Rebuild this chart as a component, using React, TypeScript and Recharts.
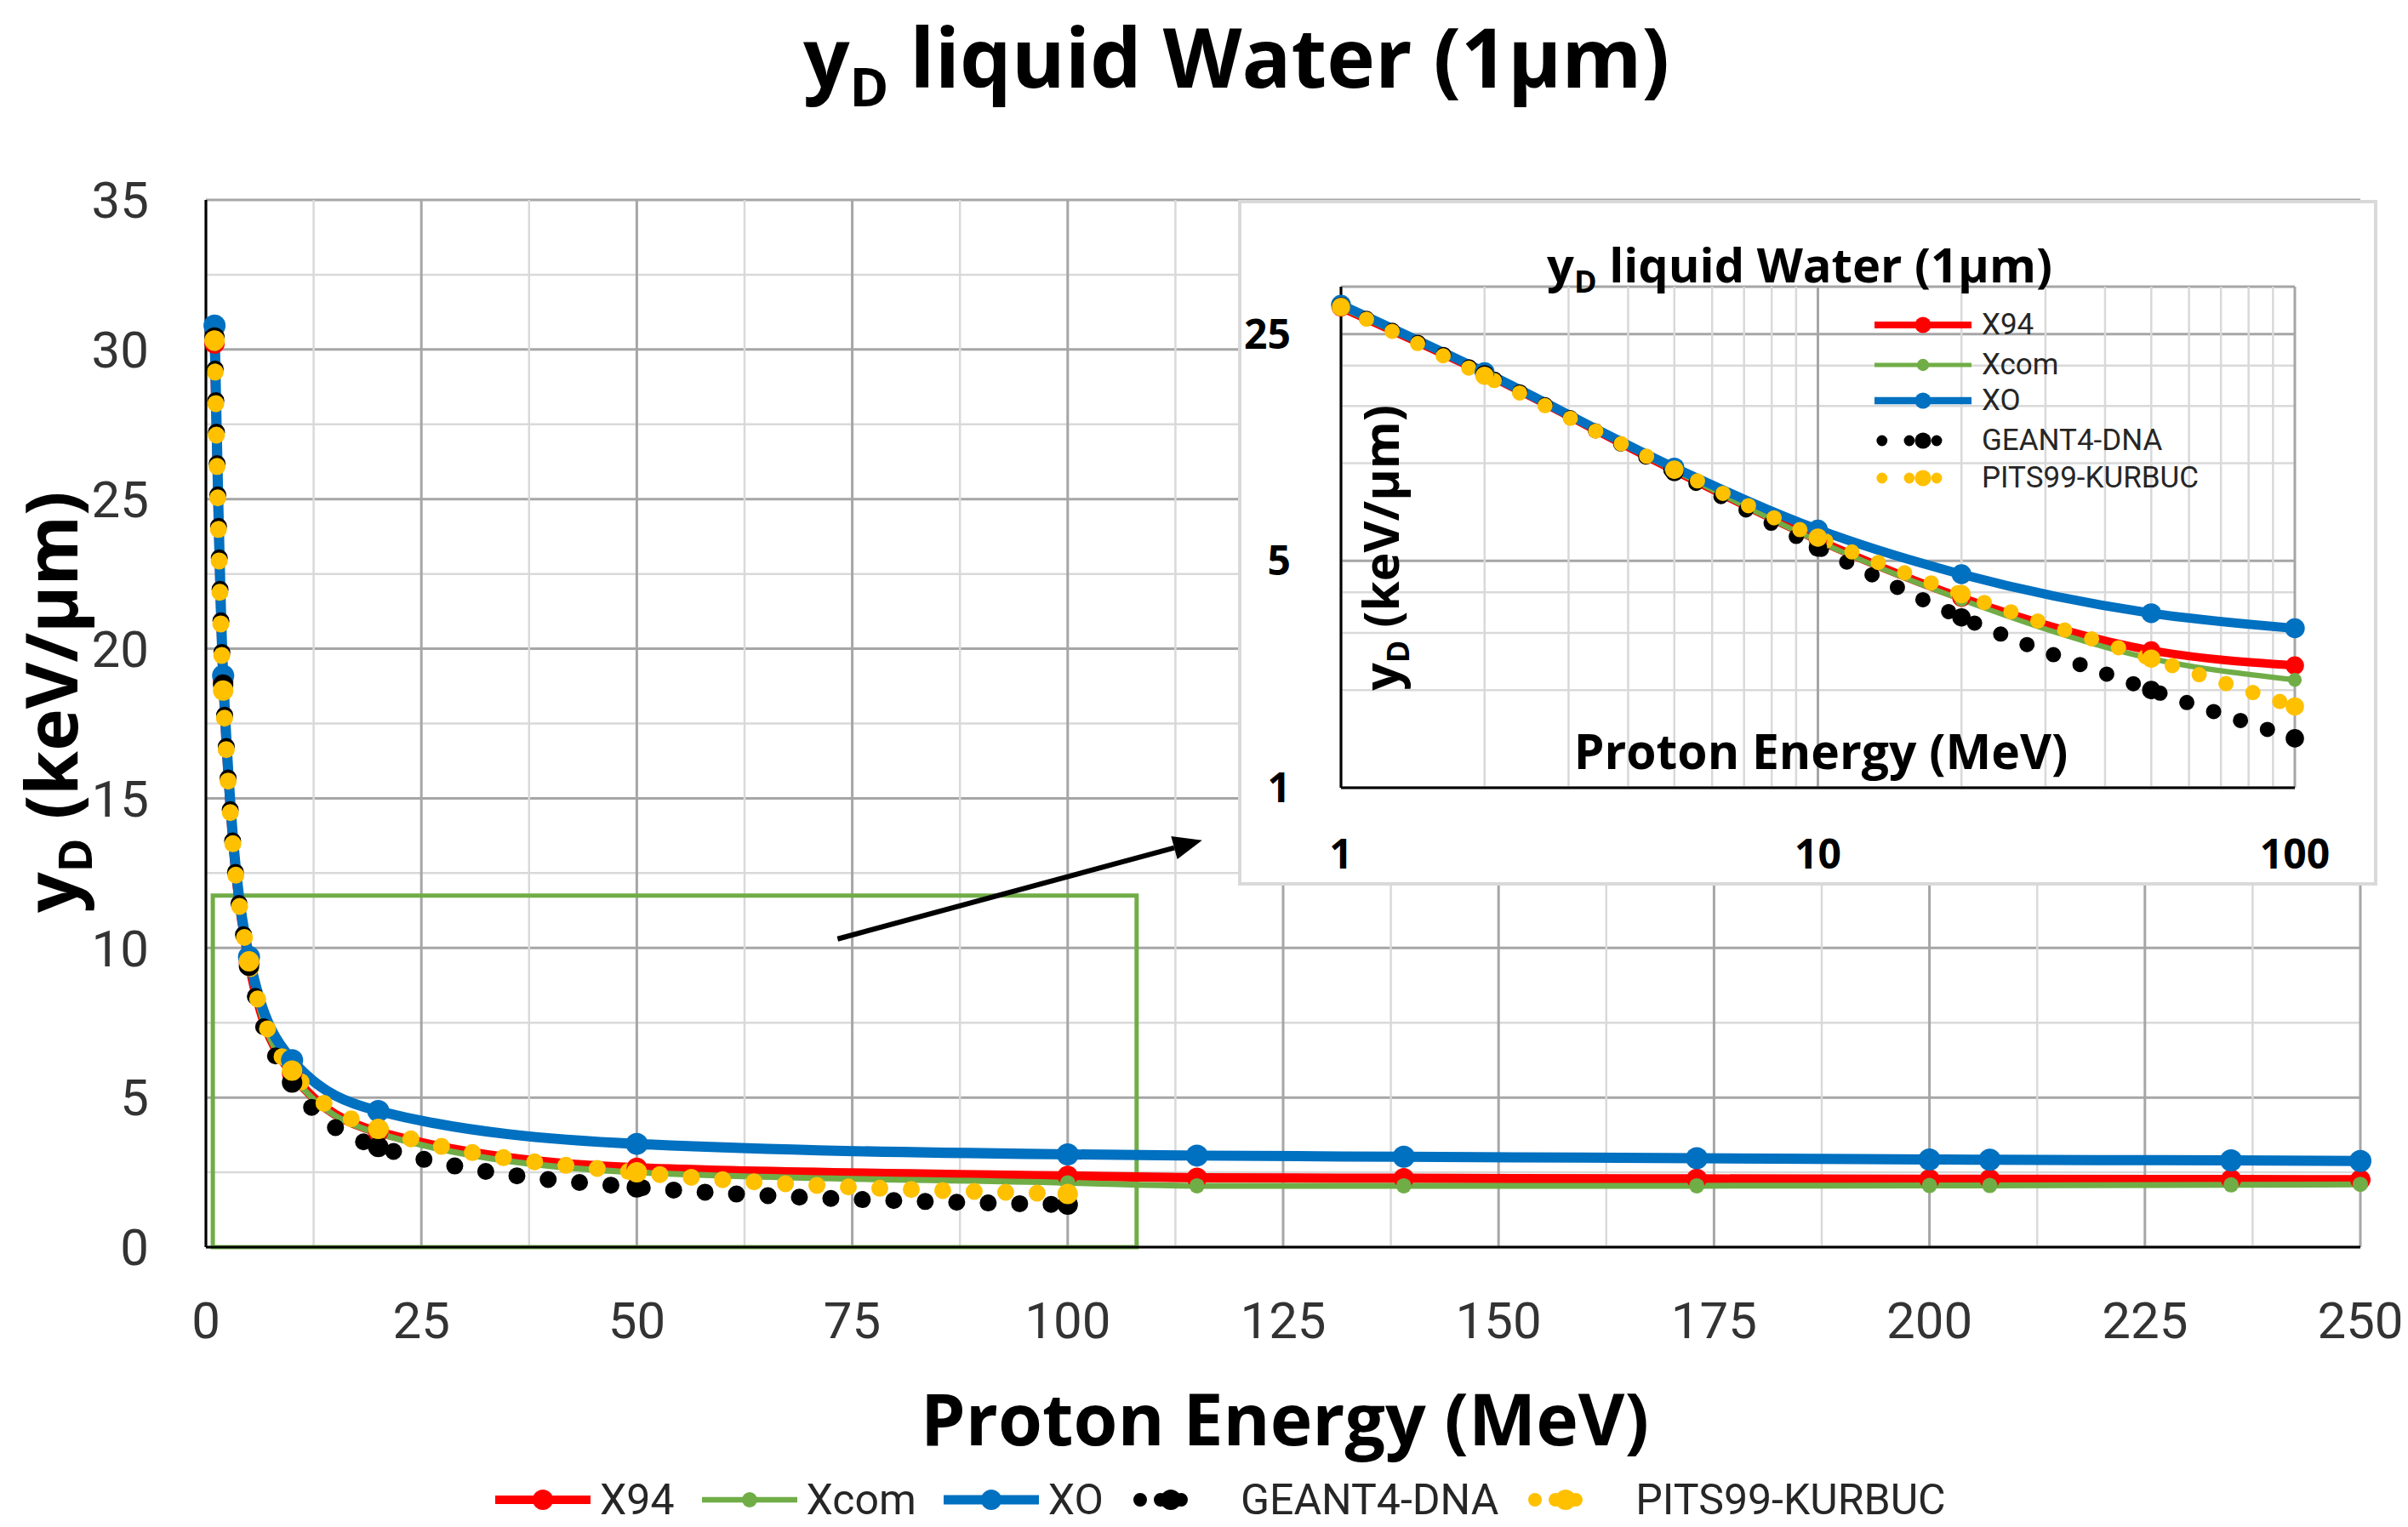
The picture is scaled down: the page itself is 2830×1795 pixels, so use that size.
import React from "react";
import {
  CartesianGrid,
  Line,
  LineChart,
  ReferenceArea,
  ReferenceLine,
  XAxis,
  YAxis,
} from "recharts";

// proton energy (MeV) and yD (keV/µm)
const energies = [1, 2, 5, 10, 20, 50, 100, 115, 139, 173, 200, 207, 235, 250];
const x94 = [30.2, 18.9, 9.5, 5.8, 3.85, 2.65, 2.38, 2.32, 2.3, 2.28, 2.27, 2.27, 2.26, 2.25];
const xcom = [30.2, 18.9, 9.5, 5.75, 3.8, 2.5, 2.15, 2.05, 2.05, 2.05, 2.06, 2.06, 2.08, 2.1];
const xo = [30.8, 19.1, 9.7, 6.25, 4.55, 3.45, 3.1, 3.06, 3.02, 2.97, 2.93, 2.92, 2.9, 2.88];
const geant4 = [30.4, 18.8, 9.4, 5.5, 3.35, 2.0, 1.42, null, null, null, null, null, null, null];
const pits99 = [30.3, 18.6, 9.55, 5.9, 3.95, 2.5, 1.78, null, null, null, null, null, null, null];

// main chart ticks (minor ones only feed the grid)
const xTicks = [0, 12.5, 25, 37.5, 50, 62.5, 75, 87.5, 100, 112.5, 125, 137.5, 150, 162.5, 175, 187.5, 200, 212.5, 225, 237.5, 250];
const yTicks = [0, 2.5, 5, 7.5, 10, 12.5, 15, 17.5, 20, 22.5, 25, 27.5, 30, 32.5, 35];

// inset (log-log) ticks
const insetXTicks = [1, 2, 3, 4, 5, 6, 7, 8, 9, 10, 20, 30, 40, 50, 60, 70, 80, 90, 100];
const insetXLabels = [1, 10, 100];
const insetYTicks = [1, 2, 3, 4, 5, 10, 15, 20, 25, 35];
const insetYLabels = [1, 5, 25];

// zoom box and arrow annotation, in data units
const zoomBox = { x1: 0.8, x2: 108, y1: 0, y2: 11.75 };
const arrowFrom = { x: 73.3, y: 10.3 };
const arrowTo = { x: 115.6, y: 13.6 };

const series = [
  { key: "x94", name: "X94", color: "#FF0000", width: 11, r: 12, dotted: false },
  { key: "xcom", name: "Xcom", color: "#70AD47", width: 7, r: 9, dotted: false },
  { key: "xo", name: "XO", color: "#0070C0", width: 12, r: 13, dotted: false },
  { key: "geant4", name: "GEANT4-DNA", color: "#000000", width: 20, r: 12, dotted: true },
  { key: "pits99", name: "PITS99-KURBUC", color: "#FFC000", width: 20, r: 12, dotted: true },
];

const data = energies.map((e, i) => ({
  e,
  x94: x94[i],
  xcom: xcom[i],
  xo: xo[i],
  geant4: geant4[i],
  pits99: pits99[i],
}));
const insetData = data.filter((d) => d.e <= 100);

const SANS = "'Open Sans', sans-serif";
const TICK_FONT = "'Liberation Sans Narrow', Roboto, sans-serif";

const gridLine = (ticks: number[], isMajor: (v: number) => boolean) => (p: any) => {
  const v = ticks[p.index];
  if (v === undefined) return <g key={p.key} />;
  const major = isMajor(v);
  return (
    <line
      key={p.key}
      x1={p.x1}
      y1={p.y1}
      x2={p.x2}
      y2={p.y2}
      stroke={major ? "#A6A6A6" : "#D9D9D9"}
      strokeWidth={major ? 3 : 2.5}
    />
  );
};

const ArrowShape = (p: any) => {
  const { x1, y1, x2, y2 } = p;
  const dx = x2 - x1;
  const dy = y2 - y1;
  const len = Math.hypot(dx, dy) || 1;
  const ux = dx / len;
  const uy = dy / len;
  const hl = 34;
  const hw = 14;
  const bx = x2 - ux * hl;
  const by = y2 - uy * hl;
  const pts = `${x2},${y2} ${bx - uy * hw},${by + ux * hw} ${bx + uy * hw},${by - ux * hw}`;
  return (
    <g>
      <line x1={x1} y1={y1} x2={bx} y2={by} stroke="#000" strokeWidth={6} />
      <polygon points={pts} fill="#000" />
    </g>
  );
};

const renderLines = (scale: number) =>
  series.map((s) => (
    <Line
      key={s.key}
      type="monotone"
      dataKey={s.key}
      name={s.name}
      stroke={s.color}
      strokeWidth={s.width * scale}
      strokeDasharray={s.dotted ? `0 ${37 * scale}` : undefined}
      strokeLinecap="round"
      dot={{ r: s.r * scale, fill: s.color, stroke: s.color, strokeWidth: 0, strokeDasharray: "none" }}
      activeDot={false}
      isAnimationActive={false}
    />
  ));

// bold label placed by its baseline; the box holds the whole font height
// (ascent 1.069em + descent 0.293em); rotated labels read bottom-to-top
const Txt = ({
  x,
  y,
  size,
  w,
  rotate = false,
  children,
}: {
  x: number;
  y: number;
  size: number;
  w: number;
  rotate?: boolean;
  children: React.ReactNode;
}) => {
  const h = size * 1.362;
  const base: React.CSSProperties = {
    position: "absolute",
    width: w,
    height: h,
    lineHeight: `${h}px`,
    fontFamily: SANS,
    fontWeight: 700,
    fontSize: size,
    color: "#000",
    textAlign: "center",
    whiteSpace: "nowrap",
  };
  if (rotate) {
    const cx = x - (1.069 - h / size / 2) * size;
    return (
      <div style={{ ...base, left: cx - w / 2, top: y - h / 2, transform: "rotate(-90deg)" }}>{children}</div>
    );
  }
  return <div style={{ ...base, left: x - w / 2, top: y - 1.069 * size }}>{children}</div>;
};

const Sub = ({ size, dy, children }: { size: number; dy: number; children: React.ReactNode }) => (
  <span style={{ fontSize: size, position: "relative", top: dy, lineHeight: 0 }}>{children}</span>
);

const LegendSymbol = ({ s, w, k }: { s: (typeof series)[number]; w: number; k: number }) => {
  const h = 40 * k;
  const cy = h / 2;
  return (
    <svg width={w} height={h} style={{ display: "block", flex: "none" }}>
      {s.dotted ? (
        <line
          x1={11 * k}
          x2={w - 11 * k}
          y1={cy}
          y2={cy}
          stroke={s.color}
          strokeWidth={16 * k}
          strokeDasharray={`0 ${(w - 22 * k) / 3}`}
          strokeLinecap="round"
        />
      ) : (
        <line x1={0} x2={w} y1={cy} y2={cy} stroke={s.color} strokeWidth={s.width * k * 0.9} />
      )}
      <circle cx={w / 2} cy={cy} r={Math.min(s.r, 12) * k} fill={s.color} />
    </svg>
  );
};

const MainLegend = () => (
  <div
    style={{
      position: "absolute",
      left: 582,
      top: 1733,
      height: 60,
      display: "flex",
      alignItems: "center",
      gap: 32,
      fontFamily: "Roboto, sans-serif",
      fontSize: 50,
      color: "#262626",
    }}
  >
    {series.map((s) => (
      <div key={s.key} style={{ display: "flex", alignItems: "center", gap: s.dotted ? 35 : 11 }}>
        <LegendSymbol s={s} w={s.dotted ? 94 : 112} k={1} />
        <span style={{ lineHeight: "58px" }}>{s.name}</span>
      </div>
    ))}
  </div>
);

const insetLegendY = [147, 194, 236, 283, 327];

const InsetLegend = () => (
  <>
    {series.map((s, i) => (
      <div
        key={s.key}
        style={{
          position: "absolute",
          left: 748,
          top: insetLegendY[i] - 21,
          height: 42,
          display: "flex",
          alignItems: "center",
          gap: 12,
          fontFamily: "Roboto, sans-serif",
          fontSize: 35,
          color: "#262626",
        }}
      >
        <LegendSymbol s={s} w={114} k={0.8} />
        <span style={{ lineHeight: "42px" }}>{s.name}</span>
      </div>
    ))}
  </>
);

const Inset = () => (
  <div
    style={{
      position: "absolute",
      left: 1455,
      top: 235,
      width: 1339,
      height: 806,
      background: "#FFFFFF",
    }}
  >
    <LineChart width={1339} height={806} data={insetData} margin={{ top: 102, right: 97, bottom: 15, left: 0 }}>
      <CartesianGrid
        horizontal={gridLine(insetYTicks, (v) => insetYLabels.includes(v) || v === 35)}
        vertical={gridLine(insetXTicks, (v) => insetXLabels.includes(v))}
      />
      <XAxis
        dataKey="e"
        type="number"
        scale="log"
        domain={[1, 100]}
        ticks={insetXTicks}
        interval={0}
        height={100}
        tickSize={0}
        tickMargin={61}
        tickFormatter={(v) => (insetXLabels.includes(v) ? String(v) : "")}
        axisLine={{ stroke: "#000", strokeWidth: 3 }}
        tickLine={false}
        tick={{ fontFamily: SANS, fontWeight: 700, fontSize: 48, fill: "#000" }}
      />
      <YAxis
        type="number"
        scale="log"
        domain={[1, 35]}
        ticks={insetYTicks}
        interval={0}
        width={121}
        tickSize={0}
        tickMargin={59}
        tickFormatter={(v) => (insetYLabels.includes(v) ? String(v) : "")}
        axisLine={{ stroke: "#000", strokeWidth: 3 }}
        tickLine={false}
        tick={{ fontFamily: SANS, fontWeight: 700, fontSize: 48, fill: "#000" }}
      />
      {renderLines(0.9)}
    </LineChart>
    <Txt x={660} y={97} size={56} w={720}>
      y<Sub size={36} dy={12}>D</Sub> liquid Water (1µm)
    </Txt>
    <Txt x={685} y={670} size={57} w={700}>
      Proton Energy (MeV)
    </Txt>
    <Txt x={190} y={409} size={57} w={400} rotate>
      y<Sub size={36} dy={12}>D</Sub> (keV/µm)
    </Txt>
    <InsetLegend />
    <div
      style={{
        position: "absolute",
        inset: 0,
        border: "4px solid #D9D9D9",
        pointerEvents: "none",
      }}
    />
  </div>
);

export default function App() {
  return (
    <div
      style={{
        position: "absolute",
        left: 0,
        top: 0,
        width: 2830,
        height: 1795,
        background: "#FFFFFF",
        overflow: "hidden",
      }}
    >
      <LineChart width={2830} height={1795} data={data} margin={{ top: 235, right: 56, bottom: 229, left: 0 }}>
        <CartesianGrid
          horizontal={gridLine(yTicks, (v) => v % 5 === 0)}
          vertical={gridLine(xTicks, (v) => v % 25 === 0)}
        />
        <XAxis
          dataKey="e"
          type="number"
          domain={[0, 250]}
          ticks={xTicks}
          interval={0}
          height={100}
          tickSize={0}
          tickMargin={64}
          tickFormatter={(v) => (v % 25 === 0 ? String(v) : "")}
          axisLine={{ stroke: "#000", strokeWidth: 3 }}
          tickLine={false}
          tick={{ fontFamily: TICK_FONT, fontSize: 60, fill: "#333333" }}
        />
        <YAxis
          type="number"
          domain={[0, 35]}
          ticks={yTicks}
          interval={0}
          width={242}
          tickSize={0}
          tickMargin={67}
          tickFormatter={(v) => (v % 5 === 0 ? String(v) : "")}
          axisLine={{ stroke: "#000", strokeWidth: 3 }}
          tickLine={false}
          tick={{ fontFamily: TICK_FONT, fontSize: 60, fill: "#333333" }}
        />
        <ReferenceArea
          x1={zoomBox.x1}
          x2={zoomBox.x2}
          y1={zoomBox.y1}
          y2={zoomBox.y2}
          fill="none"
          fillOpacity={0}
          stroke="#70AD47"
          strokeWidth={5}
          strokeOpacity={1}
        />
        {renderLines(1)}
        <ReferenceLine segment={[arrowFrom, arrowTo]} shape={ArrowShape} />
      </LineChart>
      <Txt x={1453} y={104} size={96} w={1200}>
        y<Sub size={62} dy={22}>D</Sub> liquid Water (1µm)
      </Txt>
      <Txt x={1510} y={1700} size={84} w={1000}>
        Proton Energy (MeV)
      </Txt>
      <Txt x={92} y={825} size={84} w={620} rotate>
        y<Sub size={54} dy={17}>D</Sub> (keV/µm)
      </Txt>
      <Inset />
      <MainLegend />
    </div>
  );
}
